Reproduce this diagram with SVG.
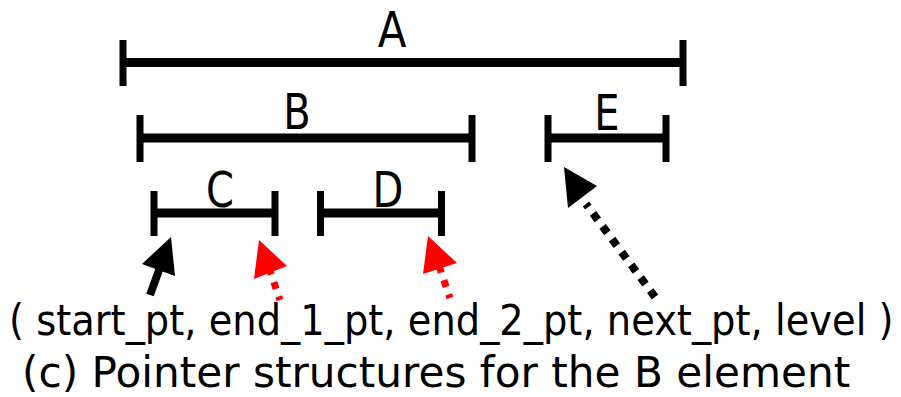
<svg xmlns="http://www.w3.org/2000/svg" width="901" height="397" viewBox="0 0 901 397">
<style>
.bar{stroke:#000;stroke-width:9;fill:none}
.tick{stroke:#000;stroke-width:7;fill:none}
.lbl{font-family:"DejaVu Sans",Verdana,sans-serif;font-size:50px;fill:#000;text-anchor:middle}
.txt{font-family:"DejaVu Sans",Verdana,sans-serif;font-size:42px;fill:#000}
.dotb{stroke:#000;stroke-width:8;stroke-dasharray:8 8;fill:none}
.dotr{stroke:#f00;stroke-width:7;stroke-dasharray:7 8;fill:none}
</style>
<rect width="901" height="397" fill="#fff"/>
<g id="A">
<path class="tick" d="M123 40V86M683 40V86"/>
<path class="bar" d="M123 62.5H683"/>
<text class="lbl" x="0" y="47" transform="translate(392 0) scale(0.84 1)">A</text>
</g>
<g id="B">
<path class="tick" d="M140 115V162M472 115V162"/>
<path class="bar" d="M140 138H472"/>
<text class="lbl" x="0" y="129" transform="translate(297 0) scale(0.8 1)">B</text>
</g>
<g id="E">
<path class="tick" d="M548 115V162M666 115V162"/>
<path class="bar" d="M548 138H666"/>
<text class="lbl" x="0" y="130" transform="translate(607 0) scale(0.8 1)">E</text>
</g>
<g id="C">
<path class="tick" d="M154 191V236M275 191V236"/>
<path class="bar" d="M154 213H275"/>
<text class="lbl" x="0" y="207" transform="translate(220 0) scale(0.8 1)">C</text>
</g>
<g id="D">
<path class="tick" d="M320.5 191V236M441.5 191V236"/>
<path class="bar" d="M320.5 213H441.5"/>
<text class="lbl" x="0" y="207" transform="translate(388 0) scale(0.8 1)">D</text>
</g>
<g id="connectors">
<line x1="150" y1="295" x2="162" y2="262" stroke="#000" stroke-width="8"/>
<polygon points="171,237 142,264 175,276" fill="#000"/>
<line class="dotr" x1="269" y1="268" x2="280" y2="300"/>
<polygon points="259,240 254,279 287,266" fill="#f00"/>
<line class="dotr" x1="439" y1="266" x2="450" y2="298"/>
<polygon points="428,236 423,274 457,263" fill="#f00"/>
<line class="dotb" x1="655" y1="297" x2="586" y2="204"/>
<polygon points="564,167 568,208 597,186" fill="#000"/>
</g>
<g id="caption">
<text class="txt" x="0" y="335" transform="translate(9 0) scale(0.78 1)" textLength="1134" lengthAdjust="spacingAndGlyphs">( start_pt, end_1_pt, end_2_pt, next_pt, level )</text>
<text class="txt" x="0" y="387" transform="translate(22 0) scale(0.84 1)" textLength="986" lengthAdjust="spacingAndGlyphs">(c) Pointer structures for the B element</text>
</g>
</svg>
